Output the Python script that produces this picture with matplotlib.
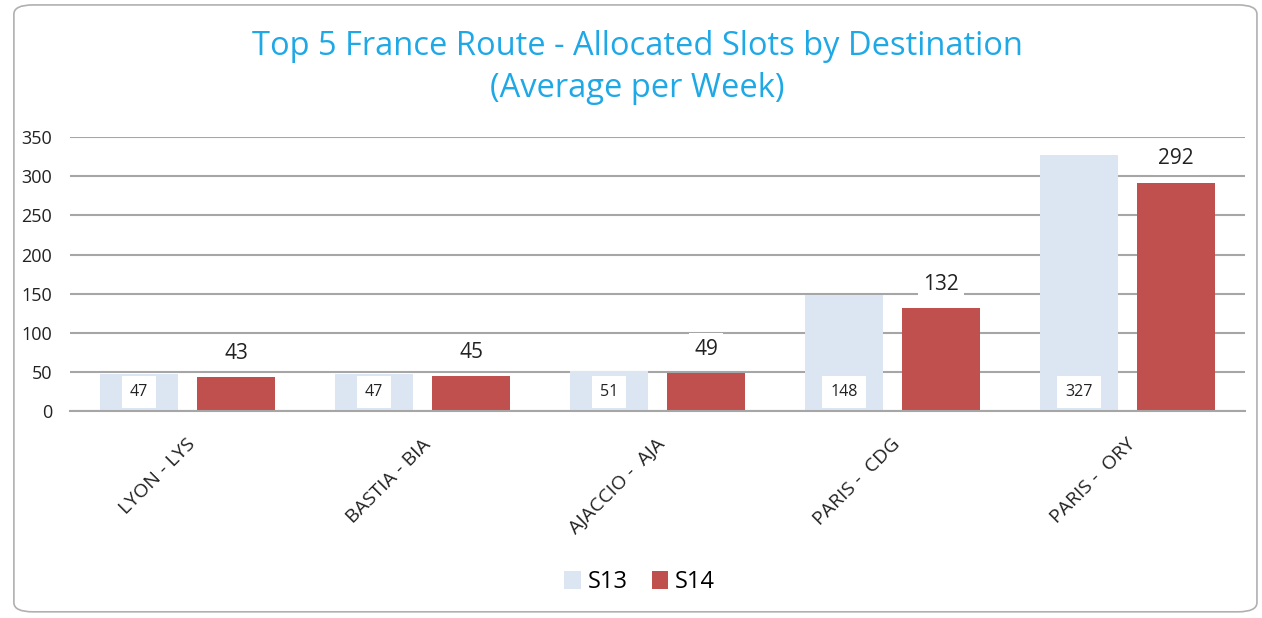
import matplotlib.pyplot as plt
import matplotlib.transforms as mtransforms
import numpy as np
from matplotlib.patches import FancyBboxPatch

# datos
destinos = ['LYON - LYS', 'BASTIA - BIA', 'AJACCIO -  AJA', 'PARIS -  CDG', 'PARIS -  ORY']
s13 = [47, 47, 51, 148, 327]
s14 = [43, 45, 49, 132, 292]

c13 = '#dce6f2'
c14 = '#c0504d'

plt.rcParams['font.family'] = ['Open Sans', 'DejaVu Sans']

fig = plt.figure(figsize=(12.62, 6.18), dpi=100)

# marco redondeado
marco = FancyBboxPatch((0.011, 0.01), 0.985, 0.982, boxstyle='round,pad=0,rounding_size=0.015',
                       transform=fig.transFigure, facecolor='none', edgecolor='#b0b0b0',
                       linewidth=1.2, zorder=-1)
fig.patches.append(marco)

ax = fig.add_axes([0.0555, 0.335, 0.931, 0.443])
ax.set_facecolor('none')

x = np.arange(len(destinos))
w = 0.33
off = 0.207
b13 = ax.bar(x - off, s13, w, color=c13, zorder=2, label='S13')
b14 = ax.bar(x + off, s14, w, color=c14, zorder=2, label='S14')

ax.set_xlim(-0.5, len(destinos) - 0.5)
ax.set_ylim(0, 350)
ax.set_yticks(range(0, 351, 50))
ax.grid(axis='y', color='#a6a6a6', linewidth=1.5, zorder=0)
ax.set_axisbelow(True)
for s in ['top', 'right', 'left']:
    ax.spines[s].set_visible(False)
ax.spines['bottom'].set_color('#a6a6a6')
ax.spines['bottom'].set_linewidth(1.5)
ax.tick_params(axis='both', length=0, colors='#222222')
ax.tick_params(axis='y', pad=13, labelsize=13)

ax.set_xticks(x)
ax.set_xticklabels(destinos, rotation=45, ha='right', va='center', rotation_mode='anchor', fontsize=14)
ax.tick_params(axis='x', pad=22)
desplaza = mtransforms.ScaledTranslation(5 / 100, 0, fig.dpi_scale_trans)
for lbl in ax.get_xticklabels():
    lbl.set_transform(lbl.get_transform() + desplaza)

# etiquetas
for xi, v in zip(x, s13):
    ax.annotate(str(v), (xi - off, 0), xytext=(0, 14), textcoords='offset points',
                ha='center', va='center', fontsize=11.5, color='#222222', zorder=4,
                bbox=dict(boxstyle='square,pad=0.5', facecolor='white', edgecolor='none'))
for xi, v in zip(x, s14):
    ax.annotate(str(v), (xi + off, v), xytext=(0, 17), textcoords='offset points',
                ha='center', va='center', fontsize=15, color='#222222', zorder=4,
                bbox=dict(boxstyle='square,pad=0.25', facecolor='white', edgecolor='none'))

fig.text(0.505, 0.891, 'Top 5 France Route - Allocated Slots by Destination\n(Average per Week)',
         ha='center', va='center', fontsize=23.5, color='#1fa8e6', linespacing=1.35)

fig.legend(handles=[b13, b14], loc='center', bbox_to_anchor=(0.507, 0.058), ncol=2, frameon=False,
           fontsize=17, handlelength=0.7, handleheight=0.8, handletextpad=0.3, columnspacing=1.0)

fig.savefig('out.png', dpi=100)
